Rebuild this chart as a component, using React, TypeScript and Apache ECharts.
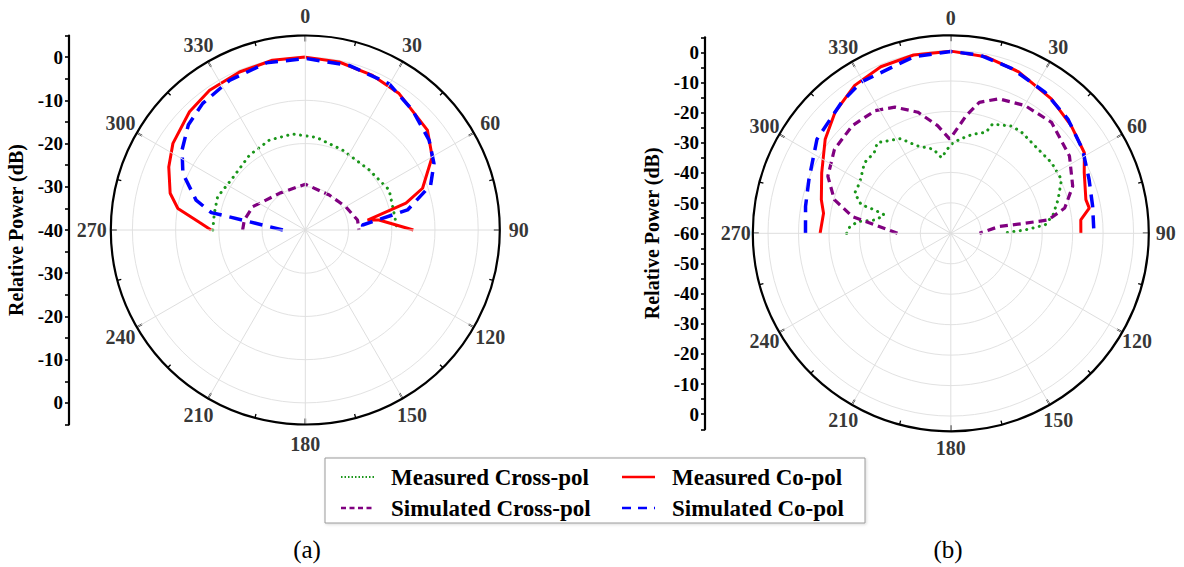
import React, { useEffect, useRef } from "react";
import * as echarts from "echarts";

const FONT = '"Liberation Serif", "Times New Roman", serif';

const angleTicks = [0, 30, 60, 90, 120, 150, 180, 210, 240, 270, 300, 330];
const seriesNames = ["Measured Cross-pol", "Measured Co-pol", "Simulated Cross-pol", "Simulated Co-pol"];
const seriesColors = ["#1a961a", "#ff0000", "#800080", "#0000ff"];
const panelLabels = ["(a)", "(b)"];

// ---------- (a) ----------
const aMeasCrossAng = [270, 280.4, 290.8, 304, 323.3, 338.2, 352.5, 6.6, 25, 46.8, 64.5, 79.4, 90];
const aMeasCrossDb = [-18.6, -18.6, -18.3, -19.3, -18.4, -17.6, -17.6, -18.4, -19.6, -19.7, -18.5, -19.1, -18.7];

const aMeasCoAng = [270, 274, 279.6, 285.2, 294.8, 303.2, 315.6, 325.6, 337.4, 349, 0, 11.4, 23.5, 34.5, 50.7, 60, 70.4, 75.1, 80.9, 82.3, 90];
const aMeasCoDb = [-18.2, -15.5, -10.1, -7.6, -5.2, -3.4, -1.7, -0.8, -0.4, 0, 0, -0.35, -1.0, -1.7, -3.5, -6.1, -11.2, -15.9, -25.4, -22.8, -15];

const aSimCrossAng = [270, 279.3, 293.9, 324.7, 0, 34.4, 60.2, 79.2, 90];
const aSimCrossDb = [-25.5, -25.7, -26.7, -29.6, -29.4, -30.2, -29.2, -27.7, -27.6];

const aSimCoAng = [270, 279, 280.5, 285.3, 294.8, 303, 312, 321, 333.1, 346.9, 0, 14.9, 29.8, 41.8, 54, 62.7, 70.3, 78.9, 85, 86.7];
const aSimCoDb = [-34.8, -25.3, -17.9, -13.8, -8.8, -6, -3.6, -2.3, -1.2, -0.3, -0.3, -0.6, -1.0, -2.8, -4.6, -6.5, -9.2, -15.9, -26.7, -26.7];

// ---------- (b) ----------
const bMeasCrossAng = [270, 273.8, 277.2, 280.2, 285.5, 287.1, 287.7, 292.8, 299, 309.3, 316.5, 321, 332, 338.9, 348.3, 353, 0, 5.4, 12.5, 19.2, 20.9, 29.8, 35.2, 46.2, 55, 64.1, 72.6, 79.8, 84.9, 87.4, 90];
const bMeasCrossDb = [-25.8, -26.8, -29.3, -35.1, -37.3, -33.7, -29.1, -25.8, -25.8, -23.4, -23.5, -21.7, -24.8, -29.2, -31.8, -35, -30.8, -29, -26.7, -24.9, -21.6, -19.5, -19.5, -20.2, -19.6, -19.6, -23.1, -25.9, -28.9, -35.5, -43.3];

const bMeasCoAng = [270, 279, 284.5, 295.1, 306.8, 316.3, 327, 337.2, 348.2, 0, 11.2, 22.8, 36.8, 48.2, 58.9, 65.6, 76, 79.7, 84.1, 90];
const bMeasCoDb = [-17.1, -17.7, -16.1, -13.2, -8.5, -5.0, -2.1, -0.7, -0.2, -0.2, -0.9, -2.5, -4.9, -7.0, -8.8, -11.9, -14.3, -13.8, -17.1, -17.3];

const bSimCrossAng = [270, 276.3, 279.7, 286.1, 294.9, 305.8, 317.6, 328.4, 336.1, 344.8, 353, 359.4, 7.5, 12.3, 19.7, 30.2, 42.2, 56.9, 68.9, 77.5, 82.2, 82.3, 82, 90];
const bSimCrossDb = [-42.5, -35.1, -27.2, -20.2, -15.5, -12.9, -12.1, -12.7, -14.7, -18.8, -24.4, -29.1, -21, -16, -13.1, -11.5, -10.8, -13.5, -17.1, -21.7, -27.7, -35.3, -44, -50.6];

const bSimCoAng = [270, 280.5, 290.7, 305.1, 320.2, 329.4, 348.1, 0, 9.1, 20.4, 33.7, 45.7, 57.5, 68.8, 79.2, 90];
const bSimCoDb = [-12.3, -11.5, -10.2, -6.3, -4.0, -2.3, -0.8, -0.3, -0.7, -2.3, -4.3, -6.3, -8.7, -11.3, -12.6, -13];

const zip = (ang: number[], db: number[]) => ang.map((a, i) => [db[i], a]);

const lineStyles: any[] = [
  { color: seriesColors[0], width: 3, type: [0.1, 6.4], cap: "round" },
  { color: seriesColors[1], width: 3, type: "solid" },
  { color: seriesColors[2], width: 3.2, type: [8, 5] },
  { color: seriesColors[3], width: 3.5, type: [13, 8] },
];

function polarSeries(polarIndex: number, sets: number[][][]) {
  return sets.map((d, i) => ({
    type: "line",
    name: seriesNames[i] + (polarIndex ? " b" : " a"),
    coordinateSystem: "polar",
    polarIndex,
    data: d,
    showSymbol: false,
    symbol: "none",
    smooth: false,
    silent: true,
    lineStyle: lineStyles[i],
    z: 3 + i,
  }));
}

function angleLabelSeries(polarIndex: number, r: number) {
  return {
    type: "scatter",
    coordinateSystem: "polar",
    polarIndex,
    clip: false,
    silent: true,
    symbolSize: 1,
    itemStyle: { color: "rgba(0,0,0,0)" },
    data: angleTicks.map((a) => [r, a]),
    label: {
      show: true,
      position: "inside",
      formatter: (p: any) => String(p.value[1]),
      color: "#000",
      fontFamily: FONT,
      fontWeight: "bold",
      fontSize: 20,
    },
    z: 10,
  };
}

function angleAxis(polarIndex: number) {
  return {
    polarIndex,
    type: "value",
    min: 0,
    max: 360,
    interval: 30,
    startAngle: 90,
    clockwise: true,
    axisLine: { show: true, lineStyle: { color: "#000", width: 2.2 } },
    axisTick: { show: true, inside: true, length: 6, lineStyle: { color: "#000", width: 1.6 } },
    minorTick: { show: true, splitNumber: 2, length: 4, lineStyle: { color: "#000", width: 1.3 } },
    axisLabel: { show: false },
    splitLine: { show: true, lineStyle: { color: "#dedede", width: 1 } },
    z: 20,
  };
}

function radiusAxis(polarIndex: number, min: number) {
  return {
    polarIndex,
    type: "value",
    min,
    max: 5,
    interval: 10,
    axisLine: { show: false },
    axisTick: { show: false },
    axisLabel: { show: false },
    splitLine: { show: true, lineStyle: { color: "#e2e2e2", width: 1 } },
  };
}

function vAxis(gridIndex: number, maxV: number) {
  const mid = maxV / 2;
  return {
    gridIndex,
    type: "value",
    min: 0,
    max: maxV,
    interval: 5,
    position: "left",
    axisLine: { show: true, lineStyle: { color: "#000", width: 2.2 } },
    axisTick: { show: true, length: 4, lineStyle: { color: "#000", width: 1.6 } },
    axisLabel: {
      color: "#000",
      fontFamily: FONT,
      fontWeight: "bold",
      fontSize: 19,
      margin: 6,
      formatter: (v: number) => {
        if (Math.round(v) % 10 !== 5) return "";
        const lab = v <= mid ? 5 - v : v - (maxV - 5);
        return String(lab);
      },
    },
    splitLine: { show: false },
    name: "Relative Power (dB)",
    nameLocation: "middle",
    nameGap: 43,
    nameRotate: 90,
    nameTextStyle: { color: "#000", fontFamily: FONT, fontWeight: "bold", fontSize: 20 },
  };
}

export default function App() {
  const ref = useRef<HTMLDivElement>(null);
  useEffect(() => {
    if (!ref.current) return;
    const chart = echarts.init(ref.current, null, { renderer: "svg" });

    const legendRows = [477, 508];
    const legendCols = [341, 622];
    const graphic: any[] = [
      {
        type: "rect",
        shape: { x: 325, y: 458, width: 540, height: 65 },
        style: { fill: "#fff", stroke: "#9a9a9a", lineWidth: 1, shadowBlur: 3, shadowColor: "rgba(0,0,0,0.15)", shadowOffsetX: 1, shadowOffsetY: 1 },
        z: 1,
      },
    ];
    [0, 1, 2, 3].forEach((i) => {
      const row = Math.floor(i / 2);
      const col = i % 2;
      const y = legendRows[row];
      const x = legendCols[col];
      const ls = lineStyles[i];
      graphic.push({
        type: "line",
        shape: { x1: x, y1: y, x2: x + 33, y2: y },
        style: {
          stroke: ls.color,
          lineWidth: i === 0 ? 2 : 2.4,
          lineDash: i === 0 ? [1.5, 2] : i === 1 ? null : i === 2 ? [5, 3.5] : [9, 7],
        },
        z: 2,
      });
      graphic.push({
        type: "text",
        x: x + 50,
        y,
        style: {
          text: seriesNames[i],
          fill: "#000",
          font: `bold 23px ${FONT}`,
          verticalAlign: "middle",
          align: "left",
        },
        z: 2,
      });
    });
    graphic.push({
      type: "text",
      x: 307,
      y: 549,
      style: { text: panelLabels[0], fill: "#000", font: `25px ${FONT}`, align: "center", verticalAlign: "middle" },
    });
    graphic.push({
      type: "text",
      x: 948,
      y: 549,
      style: { text: panelLabels[1], fill: "#000", font: `25px ${FONT}`, align: "center", verticalAlign: "middle" },
    });

    const option: any = {
      animation: false,
      backgroundColor: "#fff",
      polar: [
        { center: [305.3, 230], radius: 194.5 },
        { center: [950.8, 233.3], radius: 198 },
      ],
      angleAxis: [angleAxis(0), angleAxis(1)],
      radiusAxis: [radiusAxis(0, -40), radiusAxis(1, -60)],
      grid: [
        { left: 69, top: 35.5, width: 10, height: 389 },
        { left: 705, top: 37.3, width: 10, height: 392 },
      ],
      xAxis: [
        { gridIndex: 0, type: "value", show: false },
        { gridIndex: 1, type: "value", show: false },
      ],
      yAxis: [vAxis(0, 90), vAxis(1, 130)],
      series: [
        ...polarSeries(0, [
          zip(aMeasCrossAng, aMeasCrossDb),
          zip(aMeasCoAng, aMeasCoDb),
          zip(aSimCrossAng, aSimCrossDb),
          zip(aSimCoAng, aSimCoDb),
        ]),
        ...polarSeries(1, [
          zip(bMeasCrossAng, bMeasCrossDb),
          zip(bMeasCoAng, bMeasCoDb),
          zip(bSimCrossAng, bSimCrossDb),
          zip(bSimCoAng, bSimCoDb),
        ]),
        angleLabelSeries(0, 9.4),
        angleLabelSeries(1, 10.6),
      ],
      graphic,
    };
    chart.setOption(option);
    return () => chart.dispose();
  }, []);
  return (
    <div
      ref={ref}
      style={{ position: "fixed", left: 0, top: 0, width: 1184, height: 567, background: "#fff" }}
    />
  );
}
